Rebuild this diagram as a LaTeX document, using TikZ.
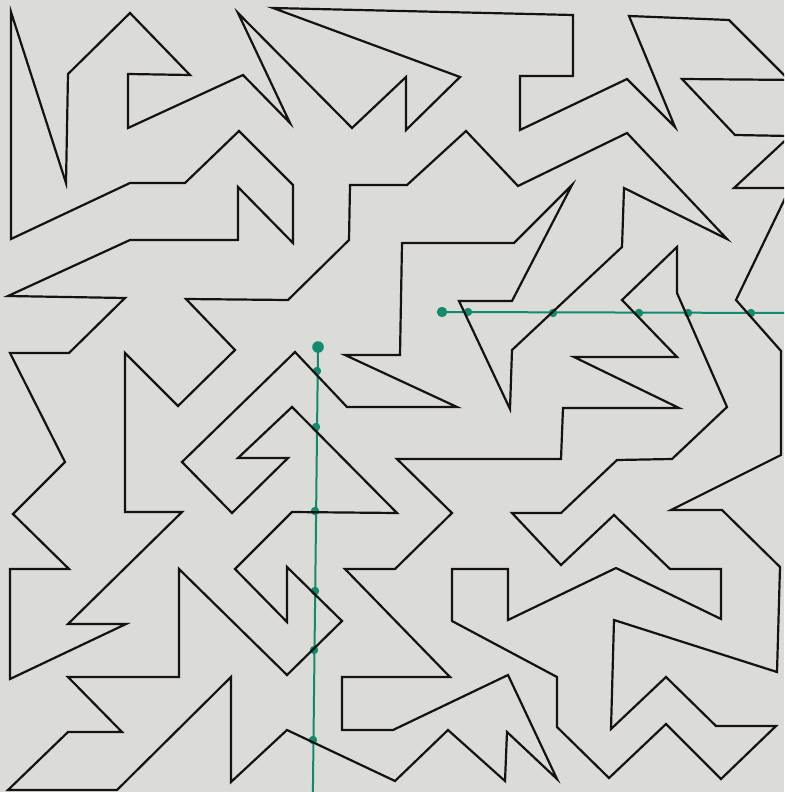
\documentclass[tikz,border=0pt]{standalone}
\definecolor{paperbg}{HTML}{DBDBD8}
\definecolor{mazegreen}{HTML}{118A6D}
\definecolor{inkline}{HTML}{161212}
\begin{document}
\begin{tikzpicture}[x=1pt,y=-1pt,
  curve/.style={line width=2.2pt, line join=miter, draw=inkline},
  probe/.style={draw=mazegreen, line width=2pt},
  bigdot/.style={fill=mazegreen, draw=none},
  smalldot/.style={fill=mazegreen, draw=none}]
\fill[paperbg] (0,0) rectangle (784,792);
\useasboundingbox (0,0) rectangle (784,792);
\clip (0,0) rectangle (784,792);
% green probes
\coordinate (vstart) at (318,347);
\coordinate (vend) at (312.8,800);
\coordinate (hstart) at (442,312);
\coordinate (hend) at (790,313);
\draw[probe] (vstart) -- (vend);
\draw[probe] (hstart) -- (hend);
\fill[bigdot] (vstart) circle (5.8);
\fill[bigdot] (hstart) circle (5.2);
\foreach \p in {(317,371),(316,427),(315,511),(315,591),(314,650),(313,740),
                (468,312),(553,313),(639,313),(688,313),(751,313)}
  \fill[smalldot] \p circle (4.2);
% the curve
\draw[curve] (800,91) -- (729,20) -- (629,16) -- (675,127) -- (627,79) -- (520,130) -- (520,76) -- (573,76) -- (573,15) -- (273,8) -- (460,77) -- (406,130) -- (406,77) -- (352,128) -- (238,13) -- (290,123) -- (243,75) -- (128,128) -- (128,74) -- (190,75) -- (130,13) -- (68,74) -- (66,183) -- (11,12) -- (11,239) -- (130,183) -- (185,183) -- (239,131) -- (293,185) -- (293,243) -- (238,187) -- (238,240) -- (130,240) -- (8,296) -- (125,298) -- (69,353) -- (10,353) -- (65,462) -- (13,514) -- (69,569) -- (10,569) -- (10,679) -- (126,624) -- (68,624) -- (182,512) -- (125,512) -- (125,353) -- (178,406) -- (235,350) -- (186,299) -- (288,300) -- (349,240) -- (350,185) -- (407,185) -- (466,131) -- (518,186) -- (627,133) -- (727,239) -- (624,188) -- (622,247) -- (512,350) -- (510,409) -- (459,301) -- (512,301) -- (572,185) -- (514,243) -- (402,243) -- (400,355) -- (345,355) -- (457,407) -- (347,407) -- (295,352) -- (182,462) -- (232,513) -- (288,458) -- (238,458) -- (292,407) -- (397,513) -- (292,512) -- (235,569) -- (287,622) -- (287,567) -- (342,621) -- (287,675) -- (179,569) -- (179,677) -- (68,677) -- (122,732) -- (68,732) -- (8,790) -- (117,790) -- (231,677) -- (231,782) -- (287,730) -- (395,781) -- (448,730) -- (505,781) -- (507,732) -- (557,779) -- (508,675) -- (393,730) -- (342,730) -- (342,677) -- (450,677) -- (345,569) -- (395,569) -- (452,513) -- (397,459) -- (561,459) -- (563,408) -- (679,408) -- (574,357) -- (677,357) -- (622,300) -- (677,247) -- (677,293) -- (727,407) -- (672,459) -- (617,460) -- (561,513) -- (512,513) -- (561,565) -- (614,515) -- (670,569) -- (721,569) -- (721,619) -- (616,568) -- (508,620) -- (508,569) -- (452,569) -- (452,621) -- (557,677) -- (557,727) -- (609,778) -- (666,724) -- (721,779) -- (776,726) -- (716,726) -- (666,677) -- (611,729) -- (614,620) -- (777,672) -- (780,567) -- (722,510) -- (671,510) -- (781,455) -- (781,351) -- (736,300) -- (790,188) -- (734,188) -- (790,136) -- (735,135) -- (682,79) -- (800,80) -- cycle;
\end{tikzpicture}
\end{document}
